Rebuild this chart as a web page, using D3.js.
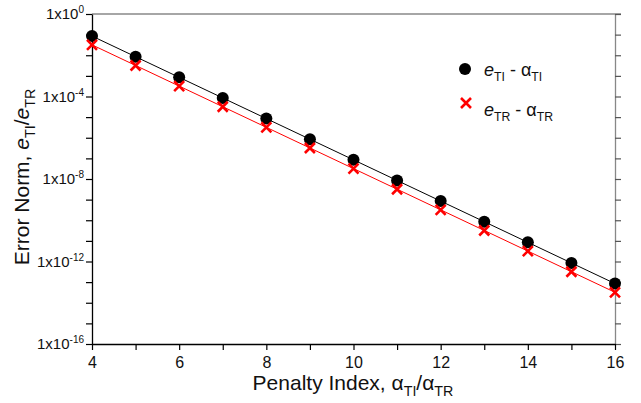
<!doctype html>
<html lang="en">
<head>
  <meta charset="UTF-8">
  <script src="https://cdn.jsdelivr.net/npm/d3@7"></script>
  <title>Error norm vs penalty index</title>
  <style>
    body{ margin:0; background:#fff; }
    .chart svg{ font-family: "Liberation Sans", Arial, sans-serif; }
  </style>
</head>
<body>
  <div class="chart"></div>
  <script>
    // data
    const penalty = [4, 5, 6, 7, 8, 9, 10, 11, 12, 13, 14, 15, 16];
    const errTI = [8.5e-2, 8.5e-3, 8.5e-4, 8.5e-5, 8.5e-6, 8.5e-7, 8.5e-8, 8.5e-9, 8.5e-10, 8.5e-11, 8.5e-12, 8.5e-13, 8.5e-14];
    const errTR = [3.2e-2, 3.2e-3, 3.2e-4, 3.2e-5, 3.2e-6, 3.2e-7, 3.2e-8, 3.2e-9, 3.2e-10, 3.2e-11, 3.2e-12, 3.2e-13, 3.2e-14];
    const yTicks = [1e0, 1e-1, 1e-2, 1e-3, 1e-4, 1e-5, 1e-6, 1e-7, 1e-8, 1e-9, 1e-10, 1e-11, 1e-12, 1e-13, 1e-14, 1e-15, 1e-16];
    const yLabelExp = [0, -4, -8, -12, -16];
    const xTicks = [4, 5, 6, 7, 8, 9, 10, 11, 12, 13, 14, 15, 16];
    const xLabels = [4, 6, 8, 10, 12, 14, 16];

    const W = 641, H = 403;
    const box = {left: 92, right: 615, top: 14, bottom: 344};

    const svg = d3.select('.chart').append('svg')
      .attr('width', W).attr('height', H);

    const x = d3.scaleLinear().domain([4, 16]).range([box.left, box.right]);
    const y = d3.scaleLog().domain([1e-16, 1]).range([box.bottom, box.top]);

    // frame: top and right in grey
    svg.append('line').attr('x1', box.left).attr('x2', box.right + 6)
      .attr('y1', box.top).attr('y2', box.top).attr('stroke', '#888').attr('stroke-width', 1.3);

    const rightAx = svg.append('g').attr('transform', `translate(${box.right},0)`)
      .call(d3.axisRight(y).tickValues(yTicks).tickSize(6).tickSizeOuter(0).tickFormat(''));
    rightAx.select('.domain').attr('stroke', '#888').attr('stroke-width', 1.3);
    rightAx.selectAll('.tick line').attr('stroke', '#555').attr('stroke-width', 1.2);

    const leftAx = svg.append('g').attr('transform', `translate(${box.left},0)`)
      .call(d3.axisLeft(y).tickValues(yTicks).tickSize(6).tickSizeOuter(0).tickFormat(''));
    leftAx.select('.domain').attr('stroke', '#000').attr('stroke-width', 1.3);
    leftAx.selectAll('.tick line').attr('stroke', '#000').attr('stroke-width', 1.2);

    yLabelExp.forEach(e => {
      const t = svg.append('text')
        .attr('x', box.left - 8).attr('y', y(Math.pow(10, e)) + 5)
        .attr('text-anchor', 'end').style('font-size', '15px').attr('fill', '#111');
      t.append('tspan').text('1x10');
      t.append('tspan').attr('dy', -6).style('font-size', '10px').text(e);
    });

    const bottomAx = svg.append('g').attr('transform', `translate(0,${box.bottom})`)
      .call(d3.axisBottom(x).tickValues(xTicks).tickSize(6).tickSizeOuter(0)
        .tickFormat(d => xLabels.includes(d) ? d : ''));
    bottomAx.select('.domain').attr('stroke', '#000').attr('stroke-width', 1.3);
    bottomAx.selectAll('.tick line').attr('stroke', '#000').attr('stroke-width', 1.2);
    bottomAx.selectAll('.tick text').style('font-size', '16px').style('font-family', '"Liberation Sans", Arial, sans-serif')
      .attr('fill', '#111').attr('y', 10).attr('dy', '0.9em');

    // series
    const pts1 = penalty.map((p, i) => [p, errTI[i]]);
    const pts2 = penalty.map((p, i) => [p, errTR[i]]);
    const line = d3.line().x(d => x(d[0])).y(d => y(d[1]));

    svg.append('path').attr('d', line(pts1)).attr('fill', 'none').attr('stroke', '#000').attr('stroke-width', 1);
    svg.append('path').attr('d', line(pts2)).attr('fill', 'none').attr('stroke', '#f00').attr('stroke-width', 1);

    svg.append('g').selectAll('circle').data(pts1).enter().append('circle')
      .attr('cx', d => x(d[0])).attr('cy', d => y(d[1])).attr('r', 6).attr('fill', '#000');

    const cross = (g, cx, cy, s) => {
      g.append('path').attr('d', `M${cx - s},${cy - s}L${cx + s},${cy + s}M${cx - s},${cy + s}L${cx + s},${cy - s}`)
        .attr('stroke', '#f00').attr('stroke-width', 2.6).attr('fill', 'none');
    };
    const crossG = svg.append('g');
    pts2.forEach(d => cross(crossG, x(d[0]), y(d[1]), 5));

    // legend
    const leg = svg.append('g');
    leg.append('circle').attr('cx', 465).attr('cy', 69).attr('r', 6).attr('fill', '#000');
    cross(leg, 466, 103, 5);

    function subLabel(parent, xx, yy, parts, size) {
      const t = parent.append('text').attr('x', xx).attr('y', yy).style('font-size', size + 'px').attr('fill', '#111');
      parts.forEach(p => {
        const s = t.append('tspan').text(p.t);
        if (p.i) s.attr('font-style', 'italic');
        if (p.sub) s.style('font-size', (size * 0.68) + 'px').attr('dy', size * 0.28);
        if (p.up) s.attr('dy', -size * 0.28);
      });
      return t;
    }
    subLabel(leg, 484, 76, [{t: 'e', i: 1}, {t: 'TI', sub: 1}, {t: ' - ', up: 1}, {t: 'α'}, {t: 'TI', sub: 1}], 18);
    subLabel(leg, 484, 116, [{t: 'e', i: 1}, {t: 'TR', sub: 1}, {t: ' - ', up: 1}, {t: 'α'}, {t: 'TR', sub: 1}], 18);

    // axis titles
    subLabel(svg, 353, 390, [{t: 'Penalty Index, '}, {t: 'α'}, {t: 'TI', sub: 1}, {t: '/', up: 1}, {t: 'α'}, {t: 'TR', sub: 1}], 21)
      .attr('text-anchor', 'middle');
    subLabel(svg, 0, 0, [{t: 'Error Norm, '}, {t: 'e', i: 1}, {t: 'TI', sub: 1}, {t: '/', up: 1}, {t: 'e', i: 1}, {t: 'TR', sub: 1}], 21)
      .attr('text-anchor', 'middle').attr('transform', 'translate(29,177) rotate(-90)');
  </script>
</body>
</html>
